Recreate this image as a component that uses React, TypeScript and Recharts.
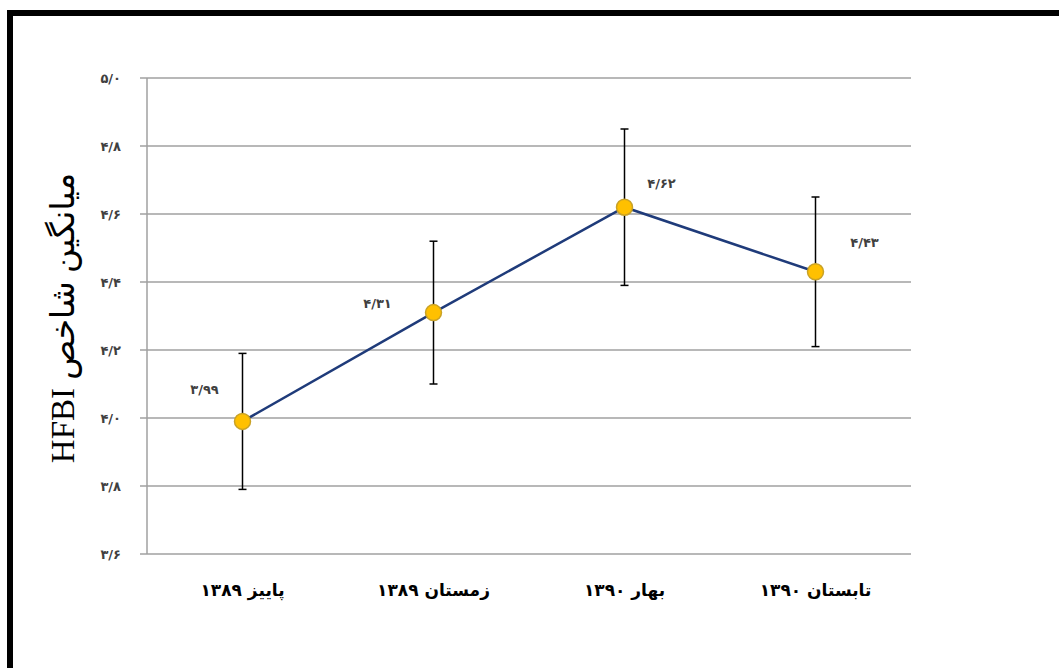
import React from "react";
import { LineChart, Line, XAxis, YAxis, CartesianGrid, ErrorBar, LabelList } from "recharts";

const seasons = ["پاییز ۱۳۸۹", "زمستان ۱۳۸۹", "بهار ۱۳۹۰", "تابستان ۱۳۹۰"];
const means = [3.99, 4.31, 4.62, 4.43];
const errors = [0.2, 0.21, 0.23, 0.22];
const yTicks = [3.6, 3.8, 4.0, 4.2, 4.4, 4.6, 4.8, 5.0];

// label offsets relative to each point (dx, dy)
const LABEL_OFFSETS = [
  [-38, -32],
  [-56, -9],
  [37, -24],
  [49, -29],
];

const FA_DIGITS = "۰۱۲۳۴۵۶۷۸۹";
const toFa = (s: string) => s.replace(/[0-9]/g, (d) => FA_DIGITS[Number(d)]).replace(".", "/");

const data = seasons.map((name, i) => ({ name, mean: means[i], err: errors[i] }));

const FONT = "'DejaVu Sans', sans-serif";

const PointLabel = (props: any) => {
  const { x, y, index, value } = props;
  const [dx, dy] = LABEL_OFFSETS[index] || [0, -15];
  return (
    <text
      x={x + dx}
      y={y + dy}
      textAnchor="middle"
      dominantBaseline="central"
      fontFamily={FONT}
      fontSize={13}
      fontWeight="bold"
      fill="#404040"
    >
      {toFa(value.toFixed(2))}
    </text>
  );
};

const App: React.FC = () => {
  return (
    <div style={{ position: "absolute", left: 0, top: 0, width: 1059, height: 668, background: "#fff", overflow: "hidden" }}>
      <div
        style={{
          position: "absolute",
          left: 7,
          top: 10,
          width: 1059,
          height: 668,
          borderTop: "6px solid #000",
          borderLeft: "6px solid #000",
        }}
      />
      <div
        style={{
          position: "absolute",
          left: 62,
          top: 318,
          transform: "translate(-50%, -50%) rotate(-90deg)",
          whiteSpace: "nowrap",
          direction: "rtl",
          fontFamily: "'Liberation Serif', 'DejaVu Sans', serif",
          fontSize: 33,
          color: "#000",
        }}
      >
        میانگین شاخص HFBI
      </div>
      <div style={{ position: "absolute", left: 0, top: 0 }}>
        <LineChart width={1059} height={668} data={data} margin={{ top: 78, right: 148, bottom: 74, left: 0 }}>
          <CartesianGrid vertical={false} stroke="#a0a0a0" strokeWidth={1.5} />
          <XAxis
            dataKey="name"
            scale="band"
            height={40}
            axisLine={false}
            tickLine={false}
            tickMargin={24}
            tick={{ fontFamily: FONT, fontSize: 17, fontWeight: "bold", fill: "#000" }}
          />
          <YAxis
            width={147}
            domain={[3.6, 5.0]}
            ticks={yTicks}
            interval={0}
            tickSize={7}
            tickMargin={19}
            stroke="#a0a0a0"
            strokeWidth={1.5}
            tickFormatter={(v: number) => toFa(v.toFixed(1))}
            tick={{ fontFamily: FONT, fontSize: 13, fontWeight: "bold", fill: "#404040" }}
          />
          <Line
            dataKey="mean"
            stroke="#1f3b7a"
            strokeWidth={2.5}
            isAnimationActive={false}
            dot={{ r: 8, fill: "#FFC000", stroke: "#c9a227", strokeWidth: 1.5 }}
            activeDot={false}
          >
            <ErrorBar dataKey="err" direction="y" width={4} stroke="#000" strokeWidth={1.5} isAnimationActive={false} />
            <LabelList dataKey="mean" content={PointLabel} />
          </Line>
        </LineChart>
      </div>
    </div>
  );
};

export default App;
